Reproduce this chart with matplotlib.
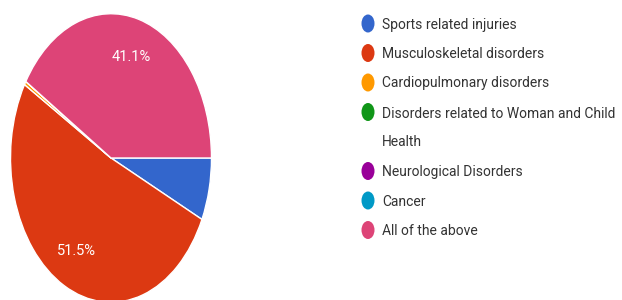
import matplotlib
matplotlib.use('Agg')
import matplotlib.pyplot as plt
from matplotlib.patches import Ellipse

labels = ['Sports related injuries', 'Musculoskeletal disorders',
          'Cardiopulmonary disorders',
          'Disorders related to Woman and Child\nHealth',
          'Neurological Disorders', 'Cancer', 'All of the above']
values = [7.0, 51.5, 0.4, 0.0, 0.0, 0.0, 41.1]
colors = ['#3366cc', '#dc3912', '#ff9900', '#109618', '#990099', '#0099c6', '#dd4477']

plt.rcParams['font.family'] = ['Roboto', 'DejaVu Sans']

W, H = 622, 300
fig = plt.figure(figsize=(W / 100, H / 100), dpi=100)

# pie is drawn as an ellipse (the source image is stretched vertically)
cx, cy, rx, ry = 111, 158, 101, 145
ax = fig.add_axes([(cx - rx) / W, (H - cy - ry) / H, 2 * rx / W, 2 * ry / H])

def fmt(p):
    # small slices get no label
    return '%.1f%%' % p if p > 10 else ''

wedges, texts, autotexts = ax.pie(values, colors=colors, startangle=0, counterclock=False,
                                  autopct=fmt, pctdistance=0.73,
                                  wedgeprops=dict(edgecolor='white', linewidth=1))
for t in autotexts:
    t.set_color('white')
    t.set_fontsize(10.5)
ax.set_aspect('auto')
ax.set_xlim(-1.005, 1.005)
ax.set_ylim(-1.005, 1.005)
ax.axis('off')

# legend drawn in pixel coordinates
lax = fig.add_axes([0, 0, 1, 1])
lax.set_xlim(0, W)
lax.set_ylim(H, 0)
lax.axis('off')
line_h = 29.5
y = 24.5
for lab, col in zip(labels, colors):
    n = lab.count('\n') + 1
    lax.add_patch(Ellipse((368, y - 1), 13, 18, facecolor=col, edgecolor='none'))
    lax.text(382, y + line_h * (n - 1) / 2, lab, fontsize=10, color='#333333',
             va='center', ha='left', linespacing=2.3)
    y += line_h * n

fig.savefig('out.png', dpi=100)
